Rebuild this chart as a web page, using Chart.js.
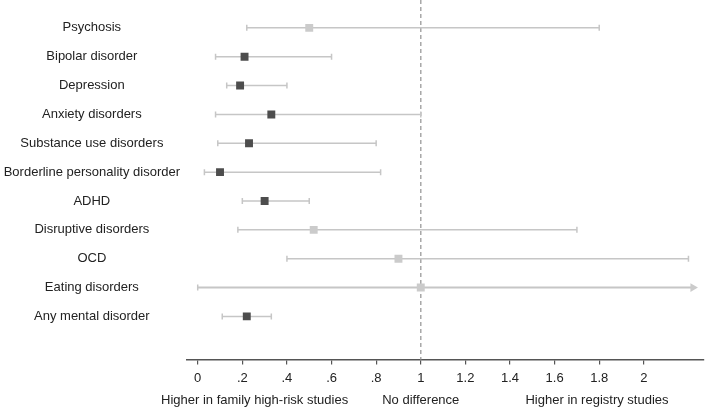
<!DOCTYPE html>
<html>
<head>
<meta charset="utf-8">
<script src="https://cdn.jsdelivr.net/npm/chart.js@4"></script>
<style>
  html, body { margin: 0; padding: 0; background: #fff; }
  #wrap { width: 709px; height: 410px; }
</style>
</head>
<body>
<div id="wrap"><canvas id="c"></canvas></div>
<script>
const categories = [
  "Psychosis", "Bipolar disorder", "Depression", "Anxiety disorders",
  "Substance use disorders", "Borderline personality disorder", "ADHD",
  "Disruptive disorders", "OCD", "Eating disorders", "Any mental disorder"
];
const estimates = [0.50, 0.21, 0.19, 0.33, 0.23, 0.10, 0.30, 0.52, 0.90, 1.00, 0.22];
const lower     = [0.22, 0.08, 0.13, 0.08, 0.09, 0.03, 0.20, 0.18, 0.40, 0.00, 0.11];
const upper     = [1.80, 0.60, 0.40, 1.00, 0.80, 0.82, 0.50, 1.70, 2.20, 2.22, 0.33];
const significant = [false, true, true, true, true, true, true, false, false, false, true];
const truncated   = [false, false, false, false, false, false, false, false, false, true, false];
const xTicks = [0, 0.2, 0.4, 0.6, 0.8, 1, 1.2, 1.4, 1.6, 1.8, 2];
const xTickLabels = ["0", ".2", ".4", ".6", ".8", "1", "1.2", "1.4", "1.6", "1.8", "2"];
const bottomNotes = [
  { text: "Higher in family high-risk studies", at: 0.255 },
  { text: "No difference", at: 1 },
  { text: "Higher in registry studies", at: 1.79 }
];

const FONT = "'Liberation Sans', Arial, sans-serif";
const TEXT = "#222";
const DARK = "#4d4d4d";
const LIGHT = "#cbcbcb";
const WHISKER = "#c6c6c6";

// one line dataset per interval
const whiskers = categories.map((c, i) => ({
  type: "line",
  data: [{ x: lower[i], y: i }, { x: upper[i], y: i }],
  borderColor: WHISKER,
  borderWidth: i === 9 ? 2 : 1.5,
  pointRadius: 0,
  fill: false,
  order: 3
}));

const caps = {
  type: "scatter",
  data: categories.flatMap((c, i) => {
    const pts = [{ x: lower[i], y: i }];
    if (!truncated[i]) pts.push({ x: upper[i], y: i });
    return pts;
  }),
  pointStyle: "line",
  rotation: 90,
  radius: 3,
  borderColor: WHISKER,
  borderWidth: 1.5,
  order: 2
};

const arrows = {
  type: "scatter",
  data: categories.map((c, i) => truncated[i] ? { x: upper[i], y: i } : null).filter(Boolean),
  pointStyle: "triangle",
  rotation: 90,
  radius: 5,
  backgroundColor: LIGHT,
  borderColor: LIGHT,
  borderWidth: 0,
  order: 2
};

const points = {
  type: "scatter",
  data: estimates.map((v, i) => ({ x: v, y: i })),
  pointStyle: "rect",
  radius: 5.6,
  backgroundColor: significant.map(s => s ? DARK : LIGHT),
  borderWidth: 0,
  order: 1
};

const refLine = {
  id: "refLine",
  beforeDatasetsDraw(chart) {
    const { ctx, chartArea, scales } = chart;
    const x = scales.x.getPixelForValue(1);
    ctx.save();
    ctx.strokeStyle = "#a8a8a8";
    ctx.lineWidth = 1.5;
    ctx.setLineDash([4, 3]);
    ctx.beginPath();
    ctx.moveTo(x, 0);
    ctx.lineTo(x, chartArea.bottom);
    ctx.stroke();
    ctx.restore();
  }
};

const notes = {
  id: "notes",
  afterDraw(chart) {
    const { ctx, chartArea, scales } = chart;
    ctx.save();
    ctx.font = "13px " + FONT;
    ctx.fillStyle = TEXT;
    ctx.textAlign = "center";
    ctx.textBaseline = "middle";
    bottomNotes.forEach(n => {
      ctx.fillText(n.text, scales.x.getPixelForValue(n.at), chartArea.bottom + 41);
    });
    ctx.restore();
  }
};

new Chart(document.getElementById("c"), {
  data: { datasets: [...whiskers, caps, arrows, points] },
  options: {
    responsive: true,
    maintainAspectRatio: false,
    animation: false,
    layout: { padding: { top: 0, right: 4, bottom: 18, left: 0 } },
    plugins: { legend: { display: false }, tooltip: { enabled: false } },
    scales: {
      x: {
        type: "linear",
        min: -0.048,
        max: 2.267,
        afterBuildTicks: s => { s.ticks = xTicks.map(v => ({ value: v })); },
        ticks: {
          callback: (v) => xTickLabels[xTicks.indexOf(v)],
          color: TEXT,
          font: { family: FONT, size: 13 },
          padding: 6,
          maxRotation: 0
        },
        grid: { drawOnChartArea: false, drawTicks: true, tickLength: 5, color: "#555", lineWidth: 1.2 },
        border: { display: true, color: "#555", width: 1.5 }
      },
      y: {
        type: "linear",
        reverse: true,
        min: -0.772,
        max: 11.49,
        afterBuildTicks: s => { s.ticks = categories.map((c, i) => ({ value: i })); },
        afterFit: s => { s.width = 187; s.paddingTop = 0; s.paddingBottom = 0; },
        ticks: {
          callback: (v) => categories[v],
          color: TEXT,
          font: { family: FONT, size: 13 },
          crossAlign: "center",
          padding: 7
        },
        grid: { display: false, drawTicks: false },
        border: { display: false }
      }
    }
  },
  plugins: [refLine, notes]
});
</script>
</body>
</html>
